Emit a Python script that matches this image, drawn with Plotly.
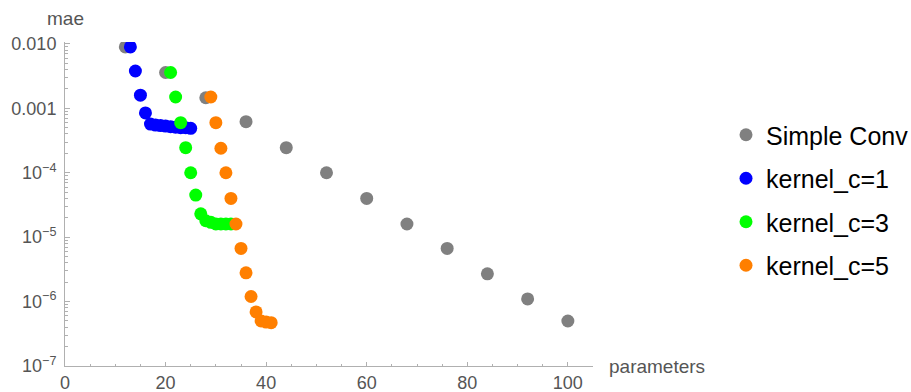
import plotly.graph_objects as go

simple_x = [12, 20, 28, 36, 44, 52, 60, 68, 76, 84, 92, 100]
simple_y = [9.0e-3, 3.6e-3, 1.46e-3, 6.2e-4, 2.45e-4, 1.0e-4, 4.0e-5, 1.6e-5, 6.7e-6, 2.7e-6, 1.1e-6, 5.0e-7]

k1_x = [13, 14, 15, 16, 17, 18, 19, 20, 21, 22, 23, 24, 25]
k1_y = [9.0e-3, 3.8e-3, 1.6e-3, 8.5e-4, 5.7e-4, 5.5e-4, 5.4e-4, 5.3e-4, 5.2e-4, 5.1e-4, 5.0e-4, 5.0e-4, 4.9e-4]

k3_x = [21, 22, 23, 24, 25, 26, 27, 28, 29, 30, 31, 32, 33]
k3_y = [3.6e-3, 1.5e-3, 6.0e-4, 2.45e-4, 1.0e-4, 4.5e-5, 2.3e-5, 1.8e-5, 1.7e-5, 1.6e-5, 1.6e-5, 1.6e-5, 1.6e-5]

k5_x = [29, 30, 31, 32, 33, 34, 35, 36, 37, 38, 39, 40, 41]
k5_y = [1.5e-3, 6.0e-4, 2.4e-4, 1.0e-4, 4.0e-5, 1.6e-5, 6.7e-6, 2.8e-6, 1.2e-6, 6.9e-7, 5.0e-7, 4.8e-7, 4.7e-7]

series_names = ["Simple Conv", "kernel_c=1", "kernel_c=3", "kernel_c=5"]
series_colors = ["#808080", "#0000ff", "#00ff00", "#ff7f00"]

y_tickvals = [1e-2, 1e-3, 1e-4, 1e-5, 1e-6, 1e-7]
y_ticktext = ["0.010", "0.001", "10<sup>−4</sup>", "10<sup>−5</sup>", "10<sup>−6</sup>", "10<sup>−7</sup>"]
x_tickvals = [0, 20, 40, 60, 80, 100]

minor_y = [m * 10 ** e for e in range(-7, -2) for m in range(2, 10)]

FONT = "Liberation Sans, Arial, sans-serif"

fig = go.Figure()
for (xs, ys), name, col in zip([(simple_x, simple_y), (k1_x, k1_y), (k3_x, k3_y), (k5_x, k5_y)],
                               series_names, series_colors):
    fig.add_trace(go.Scatter(x=xs, y=ys, mode="markers", name=name, legendgroup=name,
                             marker=dict(color=col, size=13, line=dict(width=0))))

axis_col = "#b0b0b0"
tick_font = dict(family=FONT, size=18, color="#555555")

W, H = 911, 392
ML, MR, MT, MB = 65, 2, 42, 26
plot_w = 593 - ML
paper_w = W - ML - MR
plot_h = H - MT - MB

fig.update_layout(
    width=W, height=H,
    margin=dict(l=ML, r=MR, t=MT, b=MB, autoexpand=False),
    paper_bgcolor="white", plot_bgcolor="white",
    font=dict(family=FONT),
    xaxis=dict(domain=[0, plot_w / paper_w], range=[0, 105], tickvals=x_tickvals,
               showgrid=False, zeroline=False, automargin=False,
               showline=True, linecolor=axis_col, linewidth=1,
               ticks="inside", ticklen=4, tickcolor=axis_col, tickfont=tick_font,
               minor=dict(dtick=5, ticks="inside", ticklen=2, tickcolor=axis_col)),
    yaxis=dict(type="log", range=[-7, -1.97], tickvals=y_tickvals, ticktext=y_ticktext,
               showgrid=False, zeroline=False, automargin=False,
               showline=True, linecolor=axis_col, linewidth=1,
               ticks="inside", ticklen=5, tickcolor=axis_col, tickfont=tick_font,
               ticklabelstandoff=4,
               minor=dict(tickvals=minor_y, ticks="inside", ticklen=3, tickcolor=axis_col)),
    showlegend=True,
    legend=dict(x=(726 - ML) / paper_w, y=(H - MB - 112) / plot_h, xanchor="left", yanchor="top",
                font=dict(family=FONT, size=25, color="black"),
                tracegroupgap=8, traceorder="grouped", bgcolor="rgba(0,0,0,0)"),
    annotations=[
        dict(text="mae", xref="x domain", yref="y domain", x=0, y=1, xanchor="center", yanchor="middle",
             yshift=24, showarrow=False,
             font=dict(family=FONT, size=19, color="#555555")),
        dict(text="parameters", xref="x domain", yref="y domain", x=1, y=0, xanchor="left", yanchor="middle",
             xshift=14, showarrow=False,
             font=dict(family=FONT, size=19, color="#555555")),
    ],
)

fig.write_html("out.html", config={"displayModeBar": False},
               post_script="document.body.style.margin='0';document.body.style.overflow='hidden';")
